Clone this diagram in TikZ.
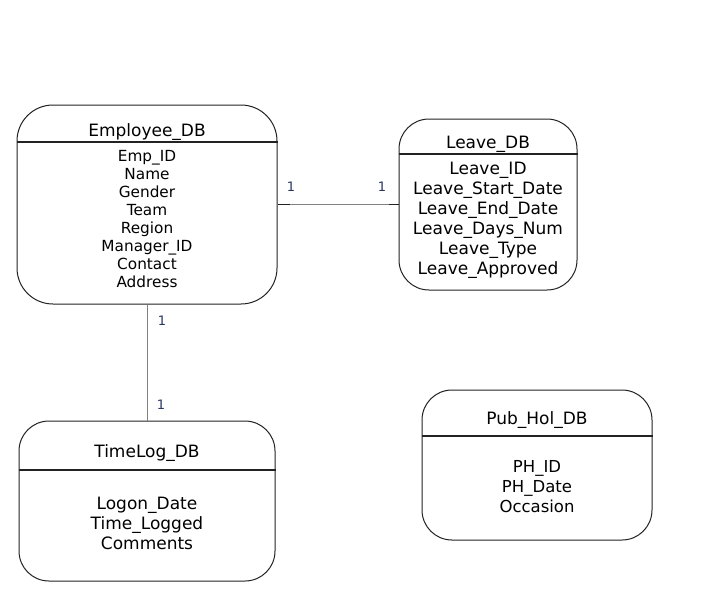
\documentclass[tikz,border=0pt]{standalone}
\usepackage{fontspec}
\setmainfont{DejaVu Sans}
\definecolor{boxline}{HTML}{222222}
\definecolor{connline}{HTML}{808080}
\definecolor{cardtext}{HTML}{2A3560}
\begin{document}
\begin{tikzpicture}[x=1pt,y=-1pt,
  entity/.style={draw=boxline, line width=1pt, fill=white, inner sep=0pt},
  divider/.style={draw=boxline, line width=1.1pt},
  ttl/.style={inner sep=0pt, font=\fontsize{17}{20}\selectfont},
  attrs/.style={inner sep=0pt, align=center},
  conn/.style={draw=connline, line width=1pt},
  connend/.style={draw=boxline, line width=1.2pt},
  card/.style={inner sep=0pt, text=cardtext, font=\fontsize{13}{15}\selectfont}]
\useasboundingbox (0,0) rectangle (722,606);

% Employee_DB
\node[entity, rounded corners=36pt, minimum width=260pt, minimum height=199pt] (emp) at (147,204.5) {};
\draw[divider] (emp.west |- 0,142) -- (emp.east |- 0,142);
\node[ttl] (empt) at (147,132.5) {Employee\_DB};
\node[attrs, font=\fontsize{15.3}{18}\selectfont] (empa) at (147,219.5) {Emp\_ID\\Name\\Gender\\Team\\Region\\Manager\_ID\\Contact\\Address};

% Leave_DB
\node[entity, rounded corners=30pt, minimum width=178pt, minimum height=171pt] (leave) at (488,204.5) {};
\draw[divider] (leave.west |- 0,154) -- (leave.east |- 0,154);
\node[ttl] (leavet) at (488,144.5) {Leave\_DB};
\node[attrs, font=\fontsize{17}{20}\selectfont] (leavea) at (488,220.5) {Leave\_ID\\Leave\_Start\_Date\\Leave\_End\_Date\\Leave\_Days\_Num\\Leave\_Type\\Leave\_Approved};

% TimeLog_DB
\node[entity, rounded corners=30pt, minimum width=256pt, minimum height=160pt] (tl) at (147,501) {};
\draw[divider] (tl.west |- 0,470) -- (tl.east |- 0,470);
\node[ttl] (tlt) at (147,453.5) {TimeLog\_DB};
\node[attrs, font=\fontsize{17}{20}\selectfont] (tla) at (147,523.5) {Logon\_Date\\Time\_Logged\\Comments};

% Pub_Hol_DB
\node[entity, rounded corners=30pt, minimum width=230pt, minimum height=150pt] (ph) at (537,465) {};
\draw[divider] (ph.west |- 0,436) -- (ph.east |- 0,436);
\node[ttl] (pht) at (537,420.5) {Pub\_Hol\_DB};
\node[attrs, font=\fontsize{16.5}{20}\selectfont] (pha) at (537,486.5) {PH\_ID\\PH\_Date\\Occasion};

% connectors
\coordinate (c1a) at ([xshift=12pt]emp.east);
\coordinate (c1b) at ([xshift=-10pt]emp.east -| leave.west);
\draw[conn] (emp.east) -- (emp.east -| leave.west);
\draw[connend] (emp.east) -- (c1a);
\draw[connend] (c1b) -- (emp.east -| leave.west);
\draw[conn] (emp.south) -- (emp.south |- tl.north);

% cardinalities
\node[card] (k1) at (291,187) {1};
\node[card] (k2) at (382,187) {1};
\node[card] (k3) at (162,321) {1};
\node[card] (k4) at (161,405) {1};
\end{tikzpicture}
\end{document}
